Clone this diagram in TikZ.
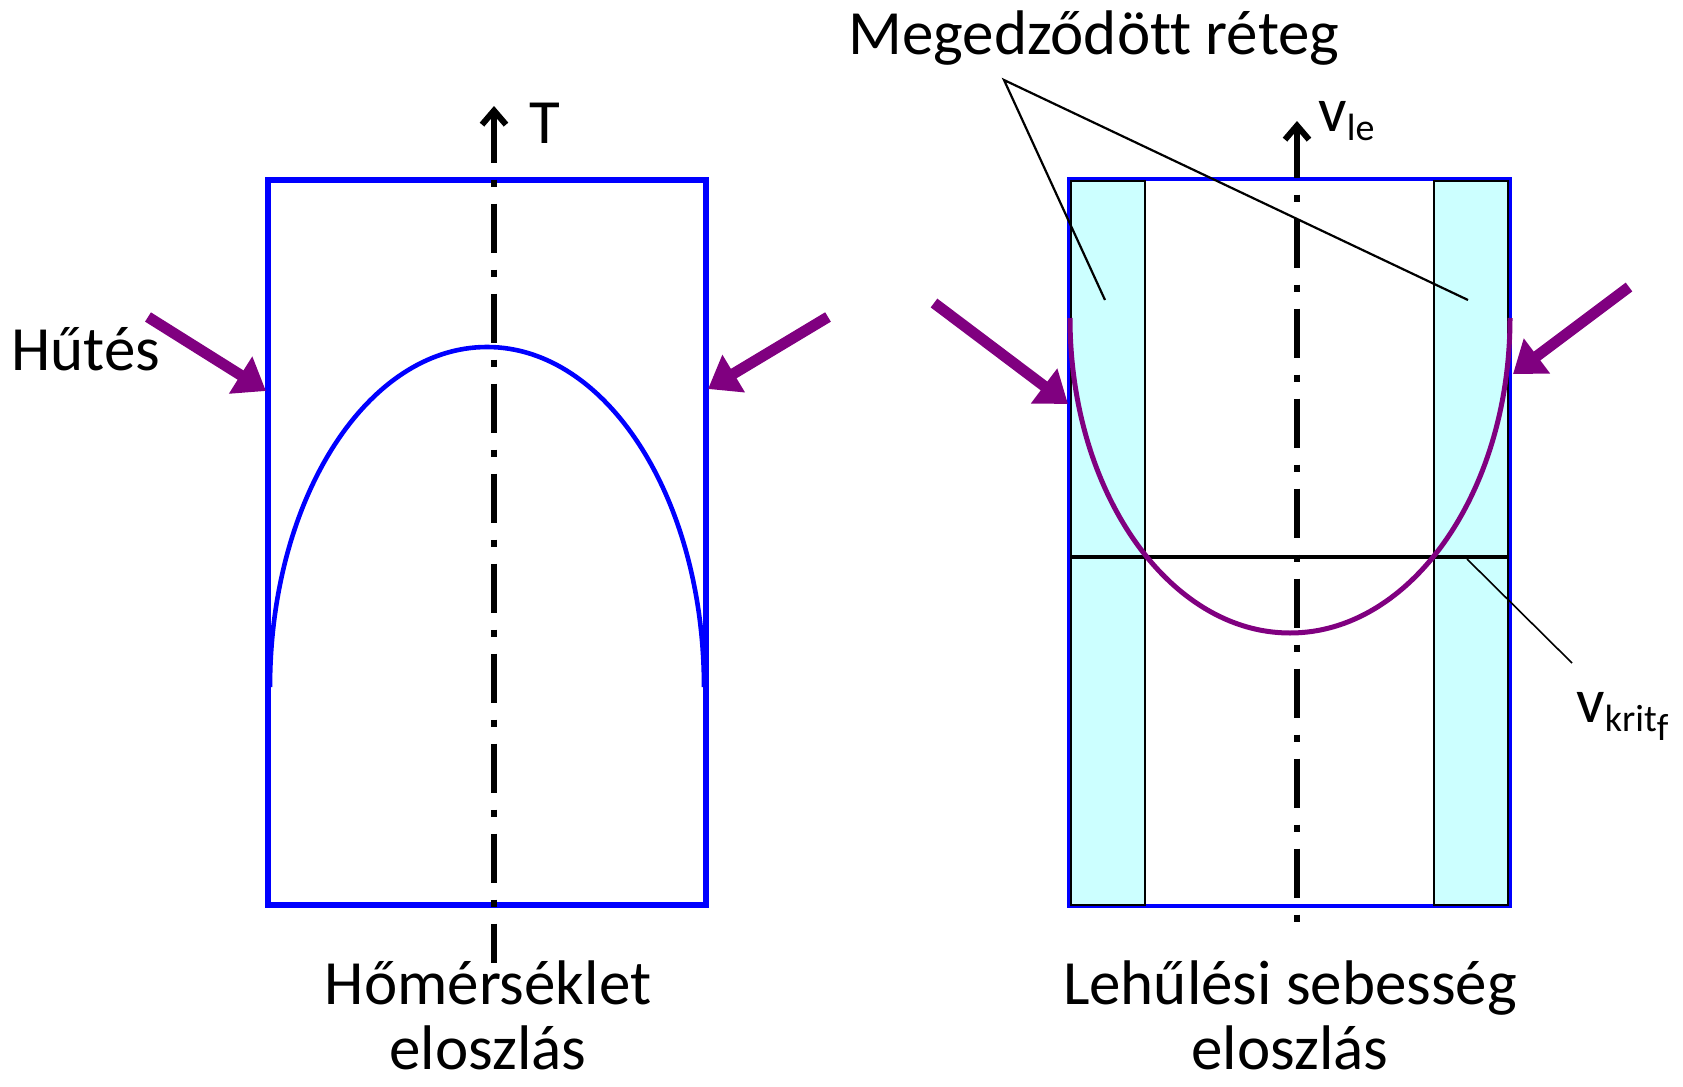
\documentclass[tikz,border=0pt]{standalone}
\usepackage{fontspec}
\setmainfont{Carlito}[Ligatures=CommonOff]
\usepackage{tikz}
\usetikzlibrary{arrows.meta}
\definecolor{hutblue}{RGB}{0,0,255}
\definecolor{hutpurple}{RGB}{128,0,128}
\definecolor{hutcyan}{RGB}{204,255,255}
\newcommand{\lowsub}[1]{\raisebox{-4.5pt}{\fontsize{19}{21}\selectfont #1}}

\begin{document}
\begin{tikzpicture}[x=0.5pt,y=-0.5pt,
	bigtext/.style={font=\fontsize{31.5}{36.5}\selectfont, inner sep=0pt},
	wall/.style={draw=hutblue, line width=3.2pt},
	thinwall/.style={draw=hutblue, line width=2pt},
	layer/.style={draw=black, fill=hutcyan, line width=0.7pt},
	tcurve/.style={draw=hutblue, line width=2.3pt},
	vcurve/.style={draw=hutpurple, line width=2.5pt},
	axisline/.style={line width=3pt, dash pattern=on 24.5pt off 8.5pt on 3.5pt off 8.5pt,
		{Straight Barb[length=7pt,width=12pt]}-},
	coolarrow/.style={draw=hutpurple, line width=5.5pt, -{Triangle[length=15pt,width=21pt]}},
	leader/.style={line width=1.1pt}]
				\useasboundingbox (0,0) rectangle (1683,1087);
				%\draw[color=gray,step=50, help lines,opacity=0.3] (0,0) grid (1683,1087); %help grid

				% left: temperature
				\draw[wall] (268,180) rectangle (706,905);
				\draw[tcurve] (270,687) .. controls (270,499) and (367,347) .. (487,347)
					.. controls (607,347) and (704,499) .. (704,687);
				\coordinate (Ttip) at (494,106);
				\coordinate (Tfoot) at (494,963);
				\draw[axisline] (Ttip) -- (Tfoot);
				\node[bigtext, anchor=base west] (T) at (529,143) {T};

				\coordinate (hl1) at (148,317);
				\coordinate (hl2) at (266,391);
				\coordinate (hr1) at (828,317);
				\coordinate (hr2) at (708,389);
				\draw[coolarrow] (hl1) -- (hl2);
				\draw[coolarrow] (hr1) -- (hr2);
				\node[bigtext, anchor=base west] (hutes) at (11,370) {Hűtés};

				\node[bigtext, anchor=base] (homers) at (488,1004) {Hőmérséklet};
				\node[bigtext, anchor=base] (homers2) at (488,1069) {eloszlás};

				% right: cooling rate
				\draw[thinwall] (1069,179) rectangle (1510,906);
				\draw[layer] (1071,181) rectangle (1145,905);
				\draw[layer] (1434,181) rectangle (1508,905);
				\coordinate (vtip) at (1297,121);
				\coordinate (vfoot) at (1297,932);
				\draw[axisline] (vtip) -- (vfoot);
				\node[bigtext, anchor=base west] (vle) at (1318,131) {v\lowsub{le}};

				\coordinate (kl) at (1070,557);
				\coordinate (kr) at (1509,557);
				\draw[line width=2.3pt] (kl) -- (kr);
				\draw[vcurve] (1070,318) .. controls (1070,492) and (1169,633) .. (1290,633)
					.. controls (1411,633) and (1510,492) .. (1510,318);

				\coordinate (vl1) at (934,303);
				\coordinate (vl2) at (1068,404);
				\coordinate (vr1) at (1629,287);
				\coordinate (vr2) at (1513,374);
				\draw[coolarrow] (vl1) -- (vl2);
				\draw[coolarrow] (vr1) -- (vr2);

				\node[bigtext, anchor=base west] (reteg) at (848,54) {Megedződött réteg};
				\coordinate (rfork) at (1004,80);
				\coordinate (rleft) at (1105,300);
				\coordinate (rright) at (1468,300);
				\draw[leader] (rleft) -- (rfork) -- (rright);

				\node[bigtext, anchor=base west] (vkrit) at (1576,722) {v\lowsub{krit\lowsub{f}}};
				\coordinate (kpin) at (1467,559);
				\coordinate (kend) at (1572,663);
				\draw[line width=0.8pt] (kpin) -- (kend);

				\node[bigtext, anchor=base] (lehul) at (1290,1004) {Lehűlési sebesség};
				\node[bigtext, anchor=base] (lehul2) at (1290,1069) {eloszlás};
\end{tikzpicture}
\end{document}
